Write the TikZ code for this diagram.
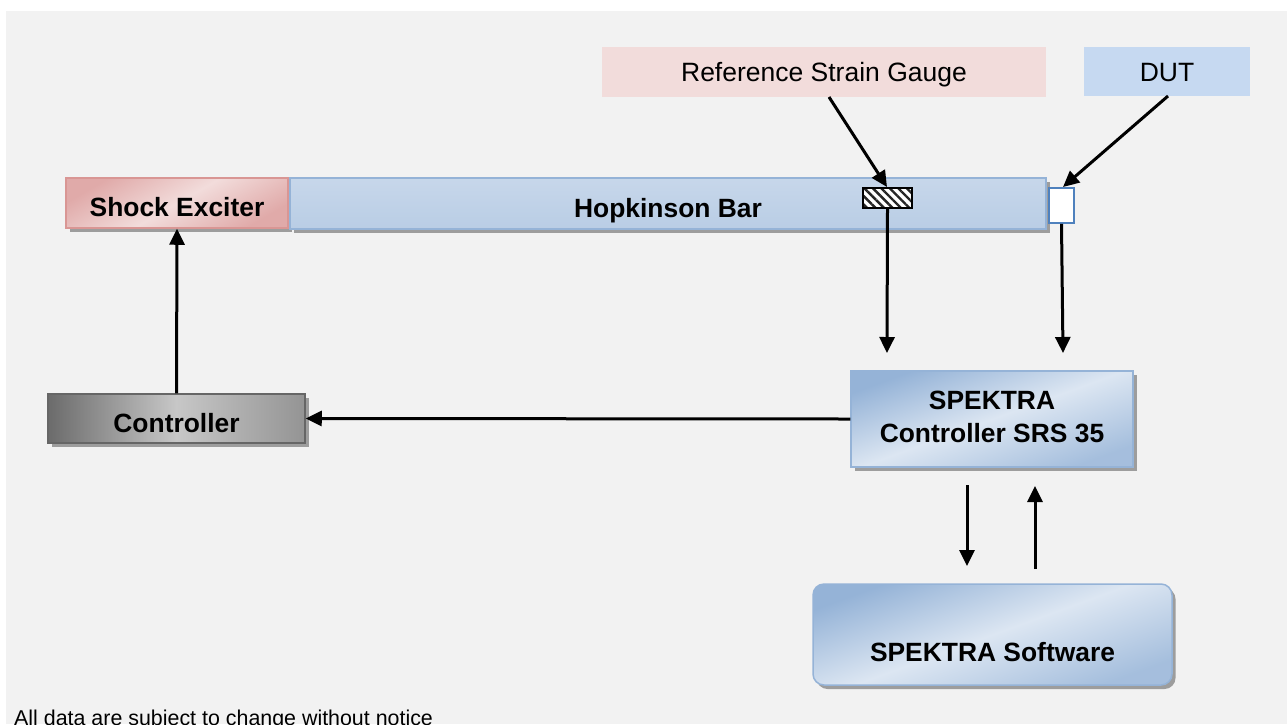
\documentclass[tikz,border=0pt]{standalone}
\usepackage{fontspec}
\setmainfont{Liberation Sans}
\usetikzlibrary{arrows.meta,shadows,patterns.meta}
\definecolor{bgc}{HTML}{F2F2F2}
\definecolor{pinkl}{HTML}{F2DCDB}
\definecolor{pinkd}{HTML}{E0AAA9}
\definecolor{pinkb}{HTML}{D99694}
\definecolor{bluel}{HTML}{DCE6F2}
\definecolor{bluem}{HTML}{B9CDE5}
\definecolor{blued}{HTML}{95B3D7}
\definecolor{bluelab}{HTML}{C6D9F1}
\definecolor{dutb}{HTML}{4F81BD}
\tikzset{
  boxfont/.style={font=\fontsize{26.4}{33}\selectfont\bfseries, text=black, inner sep=0pt, align=center},
  boxtxt/.style={boxfont, text height=27pt, text depth=0pt},
  labtxt/.style={font=\fontsize{26.5}{31}\selectfont, text=black, inner sep=0pt, text height=19pt, text depth=0pt},
  shad/.style={drop shadow={shadow xshift=3.5pt, shadow yshift=-4pt, fill=black, opacity=0.35}},
  pinkbox/.style={boxtxt, shad, draw=pinkb, line width=1.5pt, top color=pinkd, bottom color=pinkd, middle color=pinkl, shading angle=30},
  bluebox/.style={shad, draw=blued, line width=1.5pt, top color=blued, bottom color=blued!85, middle color=bluel, shading angle=20, inner sep=0pt},
  graybox/.style={boxtxt, shad, draw=black!60, line width=1.5pt, left color=black!58, right color=black!42, middle color=black!22},
  arr/.style={line width=3pt, -{Triangle[length=16pt,width=15pt]}},
}
\begin{document}
\begin{tikzpicture}[x=1pt,y=-1pt]
\useasboundingbox (0,0) rectangle (1287,724);
\fill[white] (0,0) rectangle (1287,724);
\fill[bgc] (6,11) rectangle (1287,724);

% labels
\node[labtxt, fill=pinkl, minimum width=444pt, minimum height=50pt] (rsg) at (824,72) {Reference Strain Gauge};
\node[labtxt, fill=bluelab, minimum width=166pt, minimum height=49pt] (dutl) at (1167,71.5) {DUT};

% boxes
\node[pinkbox, minimum width=222pt, minimum height=50pt] (se) at (177,203) {Shock Exciter};
\node[bluebox, boxtxt, shading angle=0, top color=bluem!60!bluel, middle color=bluel, bottom color=bluem, minimum width=756pt, minimum height=51pt] (hb) at (668,203.5) {Hopkinson Bar};
\node[draw=black, line width=1.8pt, preaction={fill=white}, pattern={Lines[angle=-45,distance=6pt,line width=2.4pt]}, pattern color=black!85, minimum width=49pt, minimum height=20pt, inner sep=0pt] (sg) at (887.5,198) {};
\node[draw=dutb, line width=1.8pt, fill=white, minimum width=25pt, minimum height=35pt, inner sep=0pt] (dut) at (1061.5,205.5) {};

\node[graybox, minimum width=257pt, minimum height=49pt] (ctrl) at (176.5,418.5) {Controller};
\node[bluebox, minimum width=282pt, minimum height=96pt,
  label={[boxfont, yshift=2.5pt]center:{SPEKTRA\\Controller SRS 35}}] (spc) at (992,419) {};
\node[bluebox, rounded corners=11pt, minimum width=359pt, minimum height=101pt,
  label={[boxfont, yshift=-17.5pt]center:{SPEKTRA Software}}] (sw) at (992.5,634.5) {};

% free ends
\coordinate (rsgs) at (829,97);
\coordinate (sgt) at (887,187);
\coordinate (duts) at (1168,96);
\coordinate (dutt) at (1063,187);
\coordinate (sgd) at (887,353);
\coordinate (dutd) at (1063,353);
\coordinate (d1s) at (967,485);
\coordinate (d1e) at (967,566);
\coordinate (u1s) at (1035,569);
\coordinate (u1e) at (1035,486);

% connectors
\draw[arr] (rsgs) -- (sgt);
\draw[arr] (duts) -- (dutt);
\draw[arr] (sg.south) -- (sgd);
\draw[arr] (dut.south) -- (dutd);
\draw[arr] (spc.west) -- (ctrl.east);
\draw[arr] (ctrl.north) -- (se.south);
\draw[arr] (d1s) -- (d1e);
\draw[arr] (u1s) -- (u1e);

\node[font=\fontsize{21.4}{25}\selectfont, anchor=base west, inner sep=0pt] (foot) at (14,725.5) {All data are subject to change without notice};
\end{tikzpicture}
\end{document}
